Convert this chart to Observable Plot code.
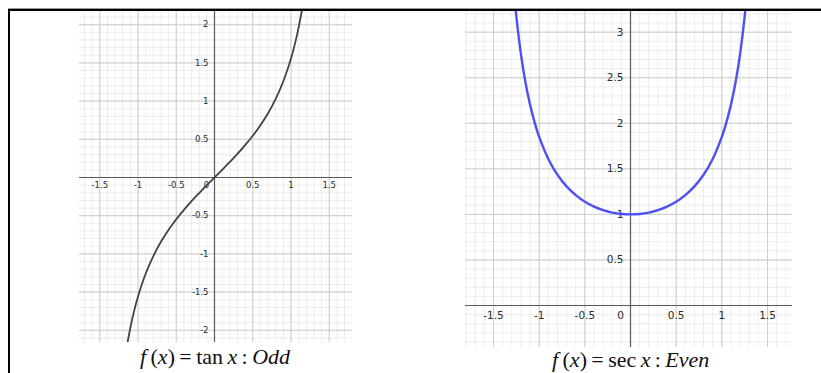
<!DOCTYPE html>
<html>
<head>
<meta charset="utf-8">
<script src="https://cdn.jsdelivr.net/npm/d3@7"></script>
<script src="https://cdn.jsdelivr.net/npm/@observablehq/plot@0.6"></script>
<style>
  html, body { margin: 0; padding: 0; background: #fff; }
  #page { position: relative; width: 821px; height: 373px; overflow: hidden; background: #fff; }
  .panel { position: absolute; }
  .rule { position: absolute; background: #000; }
  .caption {
    position: absolute; font-family: "Liberation Serif", "Times New Roman", serif;
    font-size: 22px; color: #111; white-space: nowrap; line-height: 1;
  }
  .caption i { font-style: italic; }
</style>
</head>
<body>
<div id="page">
  <div class="rule" style="left:8px; top:8px; width:813px; height:1px; background:#9a9a9a;"></div>
  <div class="rule" style="left:8px; top:9px; width:813px; height:2px;"></div>
  <div class="rule" style="left:8px; top:9px; width:2px; height:364px;"></div>
  <div id="left" class="panel" style="left:79px; top:11px;"></div>
  <div id="right" class="panel" style="left:465px; top:11px;"></div>
  <div class="caption" style="left:140px; top:346px;"><i>f</i>&thinsp;(<i>x</i>)&thinsp;=&thinsp;tan&thinsp;<i>x</i>&thinsp;:&thinsp;<i>Odd</i></div>
  <div class="caption" style="left:552px; top:349px;"><i>f</i>&thinsp;(<i>x</i>)&thinsp;=&thinsp;sec&thinsp;<i>x</i>&thinsp;:&thinsp;<i>Even</i></div>
</div>
<script>
// tan x, sampled along the curve
const tanXs = [-1.15, -1.1, -1.05, -1.0, -0.9, -0.8, -0.7, -0.6, -0.5, -0.4, -0.3, -0.2, -0.1, 0,
               0.1, 0.2, 0.3, 0.4, 0.5, 0.6, 0.7, 0.8, 0.9, 1.0, 1.05, 1.1, 1.15];
const tanYs = [-2.234, -1.965, -1.743, -1.557, -1.260, -1.030, -0.842, -0.684, -0.546, -0.423, -0.309, -0.203, -0.100, 0,
               0.100, 0.203, 0.309, 0.423, 0.546, 0.684, 0.842, 1.030, 1.260, 1.557, 1.743, 1.965, 2.234];

// sec x, sampled along the curve
const secXs = [-1.3, -1.25, -1.2, -1.15, -1.1, -1.05, -1.0, -0.9, -0.8, -0.7, -0.6, -0.5, -0.4, -0.3, -0.2, -0.1, 0,
               0.1, 0.2, 0.3, 0.4, 0.5, 0.6, 0.7, 0.8, 0.9, 1.0, 1.05, 1.1, 1.15, 1.2, 1.25, 1.3];
const secYs = [3.738, 3.171, 2.760, 2.448, 2.205, 2.010, 1.851, 1.609, 1.435, 1.307, 1.212, 1.139, 1.086, 1.047, 1.020, 1.005, 1,
               1.005, 1.020, 1.047, 1.086, 1.139, 1.212, 1.307, 1.435, 1.609, 1.851, 2.010, 2.205, 2.448, 2.760, 3.171, 3.738];

// tick labels
const xTickLabels = [-1.5, -1, -0.5, 0.5, 1, 1.5];
const tanYTickLabels = [-2, -1.5, -1, -0.5, 0.5, 1, 1.5, 2];
const secYTickLabels = [0.5, 1, 1.5, 2, 2.5, 3];

function gridPlot({width, height, xDomain, yDomain, xs, ys, stroke, strokeWidth, yTicks, fontSize, xLabelDy, yLabelDx, originDx}) {
  const minorX = d3.range(Math.ceil(xDomain[0] * 10), Math.floor(xDomain[1] * 10) + 1).map(i => i / 10);
  const minorY = d3.range(Math.ceil(yDomain[0] * 10), Math.floor(yDomain[1] * 10) + 1).map(i => i / 10);
  const majorX = minorX.filter(v => Math.abs(v * 2 - Math.round(v * 2)) < 1e-9 && v !== 0);
  const majorY = minorY.filter(v => Math.abs(v * 2 - Math.round(v * 2)) < 1e-9 && v !== 0);
  const pts = xs.map((x, i) => ({x, y: ys[i]}));
  return Plot.plot({
    width, height,
    margin: 0,
    x: {domain: xDomain, axis: null},
    y: {domain: yDomain, axis: null},
    style: {fontFamily: "'DejaVu Sans', sans-serif", fontSize: fontSize + "px", color: "#2a2a2a", background: "transparent"},
    marks: [
      Plot.ruleX(minorX, {x: d => d, stroke: "#ececec", strokeWidth: 1}),
      Plot.ruleY(minorY, {y: d => d, stroke: "#ececec", strokeWidth: 1}),
      Plot.ruleX(majorX, {x: d => d, stroke: "#cdcdcd", strokeWidth: 1}),
      Plot.ruleY(majorY, {y: d => d, stroke: "#cdcdcd", strokeWidth: 1}),
      Plot.ruleX([0], {stroke: "#5a5a5a", strokeWidth: 1.2}),
      Plot.ruleY([0], {stroke: "#5a5a5a", strokeWidth: 1.2}),
      Plot.text(xTickLabels, {x: d => d, y: 0, dy: xLabelDy, text: d => String(d), fill: "#2a2a2a"}),
      Plot.text(yTicks, {x: 0, y: d => d, dx: yLabelDx, text: d => String(d), textAnchor: "end", fill: "#2a2a2a"}),
      Plot.text([0], {x: 0, y: 0, dx: originDx, dy: xLabelDy, text: d => String(d), fill: "#2a2a2a"}),
      Plot.line(pts, {x: "x", y: "y", stroke, strokeWidth, curve: "catmull-rom", clip: true})
    ]
  });
}

document.getElementById("left").append(gridPlot({
  width: 273, height: 331,
  xDomain: [-1.765, 1.804], yDomain: [-2.16, 2.173],
  xs: tanXs, ys: tanYs, stroke: "#424242", strokeWidth: 1.8,
  yTicks: tanYTickLabels, fontSize: 8.5, xLabelDy: 8, yLabelDx: -6, originDx: -8
}));

document.getElementById("right").append(gridPlot({
  width: 327, height: 336,
  xDomain: [-1.807, 1.774], yDomain: [-0.461, 3.227],
  xs: secXs, ys: secYs, stroke: "#4f4ff5", strokeWidth: 2.4,
  yTicks: secYTickLabels, fontSize: 10.5, xLabelDy: 10, yLabelDx: -7, originDx: -10
}));
</script>
</body>
</html>
